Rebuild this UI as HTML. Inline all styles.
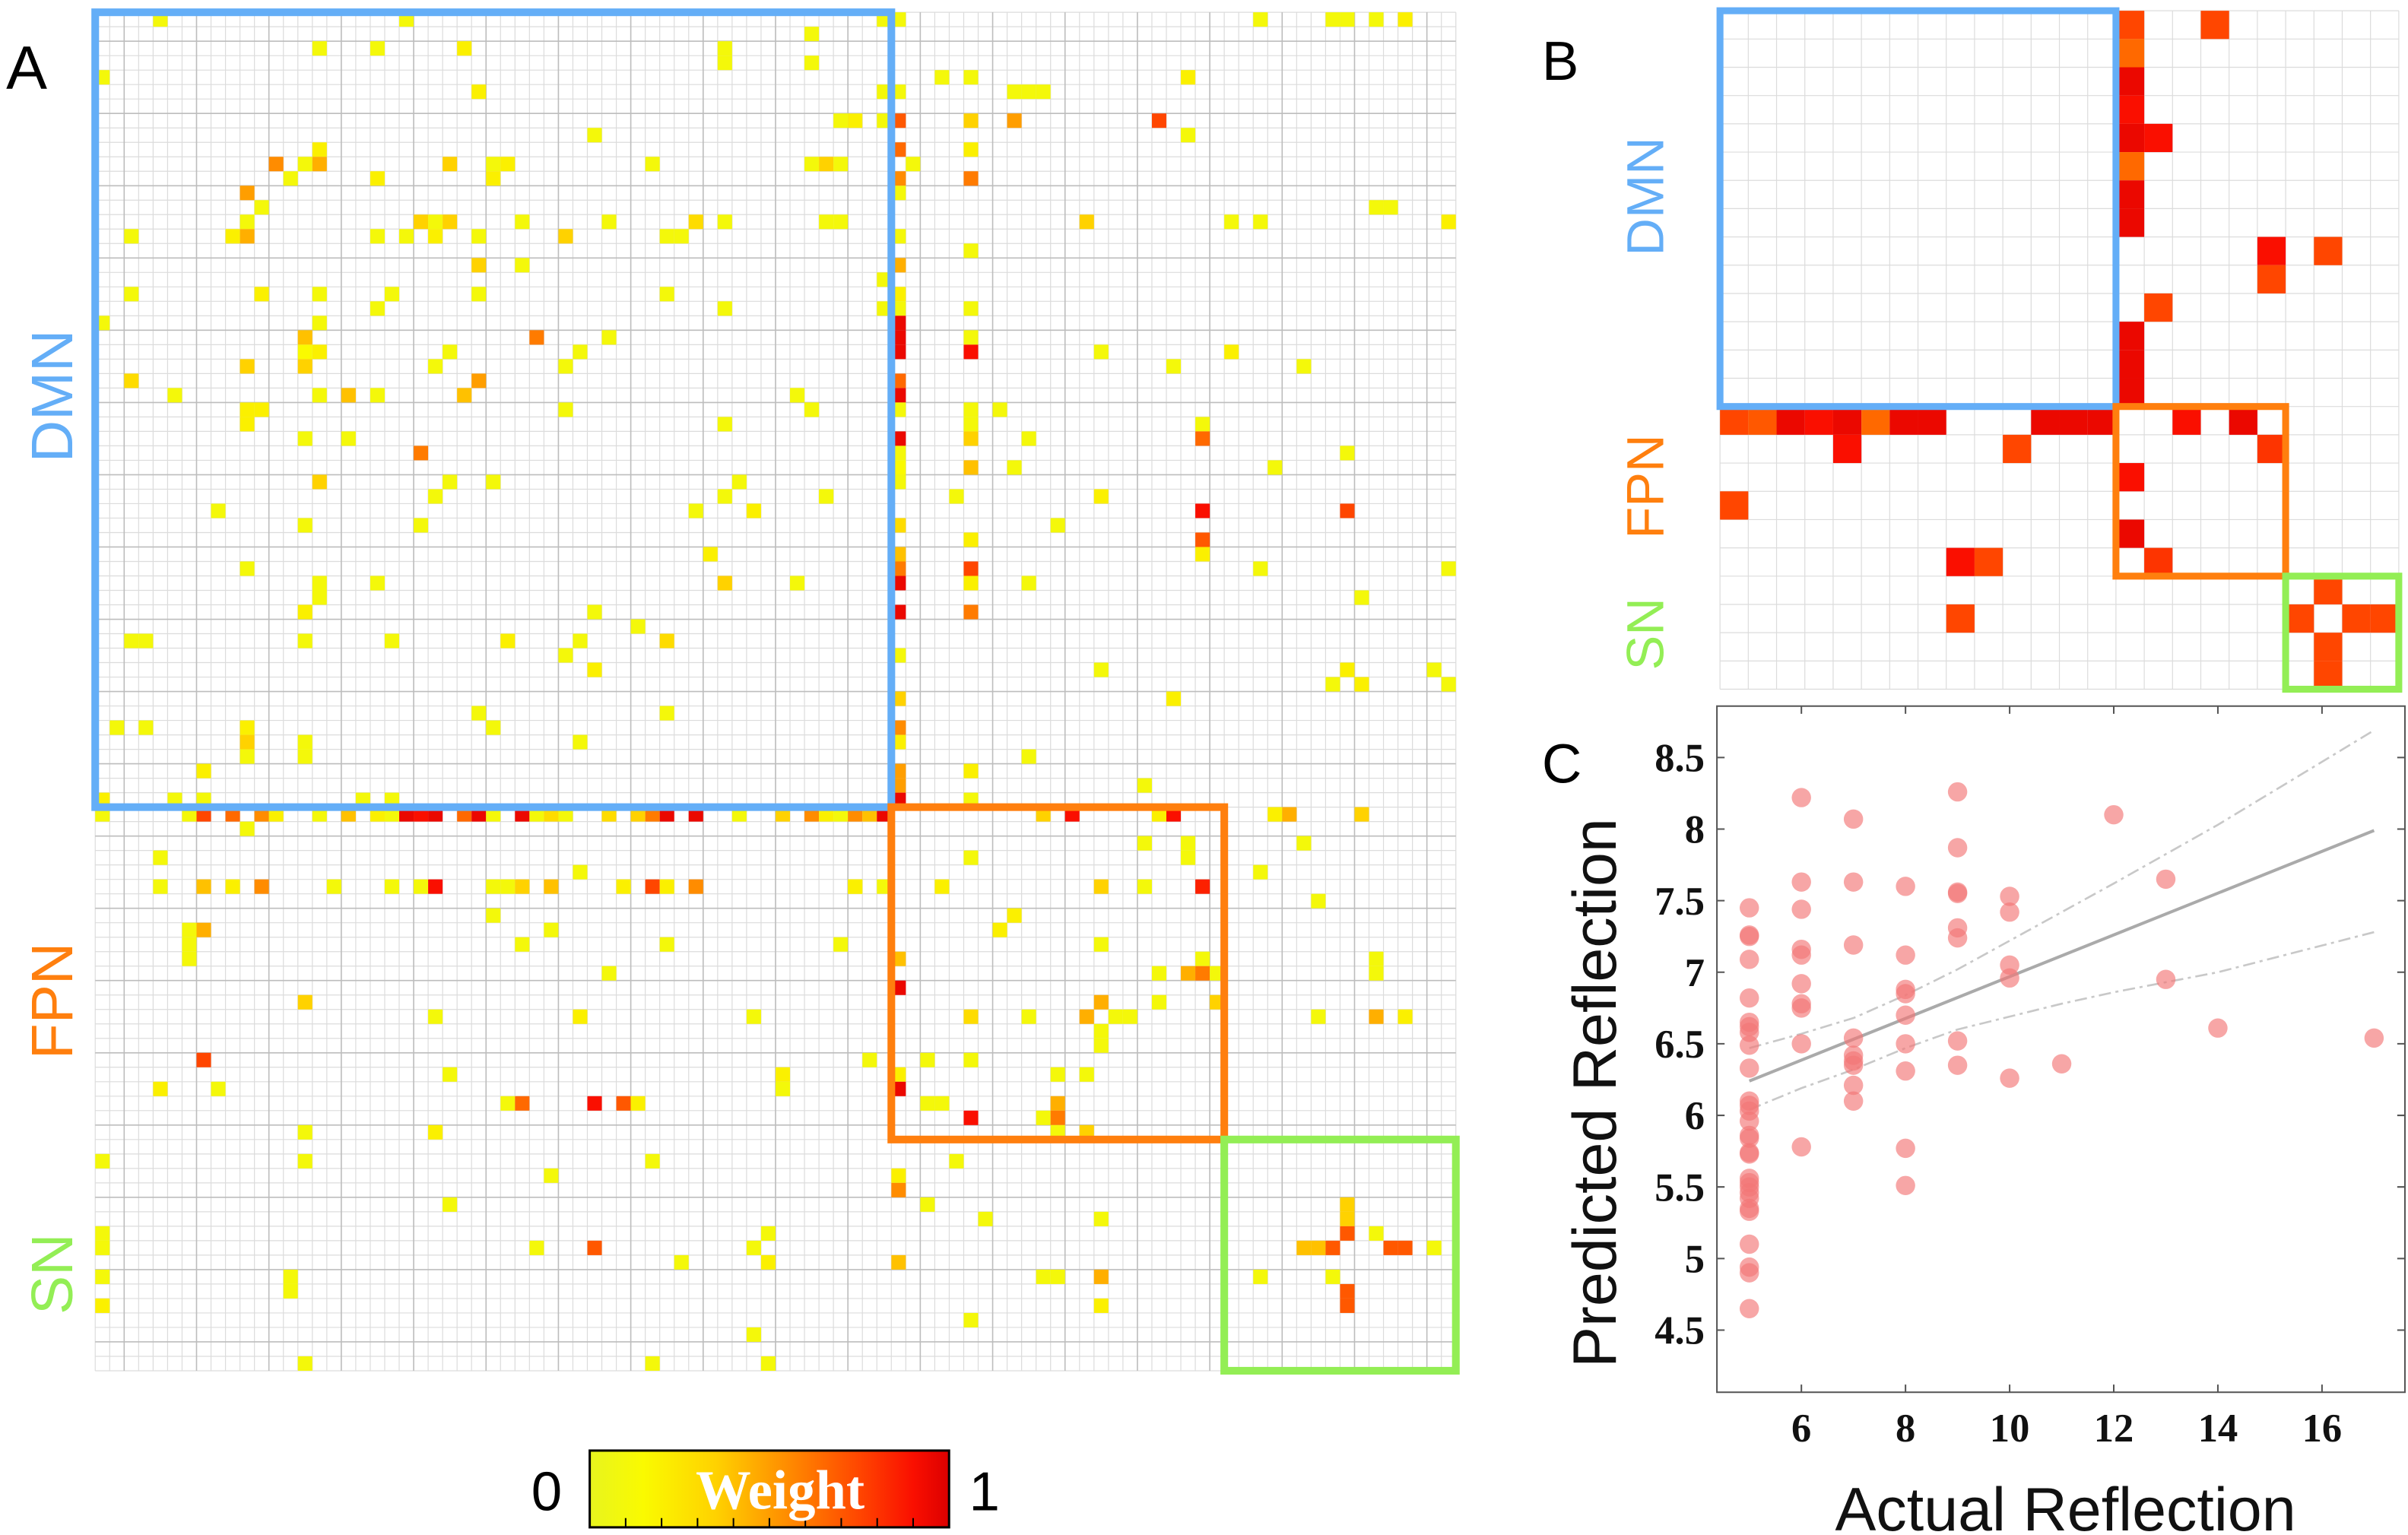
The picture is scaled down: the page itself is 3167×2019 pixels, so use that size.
<!DOCTYPE html>
<html><head><meta charset="utf-8">
<style>
html,body{margin:0;padding:0;background:#fff;}
svg{display:block;}
text{font-family:"Liberation Sans",sans-serif;}
text.serif{font-family:"Liberation Serif",serif;}
</style></head>
<body>
<svg id="fig" xmlns="http://www.w3.org/2000/svg" width="3167" height="2019" viewBox="0 0 1568 1000" preserveAspectRatio="none">
  <rect x="0" y="0" width="1568" height="1000" fill="#fff"/>
  <g id="panelA"></g>
  <g id="panelB"></g>
  <g id="panelC"></g>
  <g id="cbar"></g>
  <text x="4" y="58" font-size="40">A</text>
  <text x="1004" y="52" font-size="36">B</text>
  <text x="1004" y="510" font-size="36">C</text>
  <text transform="translate(47,258) rotate(-90)" text-anchor="middle" font-size="38" fill="#64aef7">DMN</text>
  <text transform="translate(47,652) rotate(-90)" text-anchor="middle" font-size="38" fill="#ff7f0e">FPN</text>
  <text transform="translate(47,830) rotate(-90)" text-anchor="middle" font-size="38" fill="#93ee55">SN</text>
  <text transform="translate(1083,128) rotate(-90)" text-anchor="middle" font-size="34" fill="#64aef7">DMN</text>
  <text transform="translate(1083,317) rotate(-90)" text-anchor="middle" font-size="34" fill="#ff7f0e">FPN</text>
  <text transform="translate(1083,413) rotate(-90)" text-anchor="middle" font-size="34" fill="#93ee55">SN</text>
</svg>
<script>
const NS = "http://www.w3.org/2000/svg";
// ---------- Panel A data: [row, col, weight] ----------
const aNetworkSizes = [55, 23, 16];
const aCells = [
[0,4,.1],[0,21,.1],[2,15,.1],[2,19,.1],[2,25,.2],[2,43,.1],[3,43,.1],[1,49,.1],[3,49,.1],[4,0,.1],[5,26,.2],[7,51,.1],[8,34,.1],[9,15,.2],[10,12,.55],[10,14,.1],[10,15,.45],[10,24,.35],[10,27,.1],[10,28,.2],[10,38,.1],[10,49,.1],[10,50,.35],[10,51,.1],[11,13,.1],[11,19,.2],[11,27,.2],[12,10,.5],[13,11,.1],[14,10,.1],[14,22,.35],[14,23,.1],[14,24,.35],[14,29,.1],[14,35,.1],[14,41,.3],[14,43,.1],[14,50,.1],[14,51,.1],[15,2,.1],[15,9,.2],[15,10,.45],[15,19,.1],[15,21,.1],[15,23,.2],[15,26,.1],[15,32,.35],[15,39,.1],[15,40,.1],[17,26,.35],[17,29,.1],[19,2,.1],[19,11,.2],[19,15,.1],[19,20,.1],[19,26,.1],[19,39,.1],[20,19,.1],[20,43,.1],[21,0,.1],[21,15,.1],[22,14,.4],[22,30,.6],[22,35,.1],[23,14,.15],[23,15,.2],[23,24,.1],[23,33,.1],[24,10,.35],[24,14,.35],[24,23,.1],[24,32,.1],[25,2,.3],[25,26,.5],[26,5,.1],[26,15,.1],[26,17,.4],[26,19,.1],[26,25,.4],[26,48,.1],[27,10,.2],[27,11,.2],[27,32,.1],[27,49,.1],[28,10,.2],[28,43,.1],[29,14,.1],[29,17,.1],[30,22,.6],[32,15,.35],[32,24,.1],[32,27,.1],[32,44,.1],[33,23,.1],[33,43,.1],[33,50,.1],[34,8,.1],[34,41,.1],[34,45,.2],[35,14,.1],[35,22,.1],[37,42,.2],[38,10,.1],[39,15,.1],[39,19,.1],[39,43,.35],[39,48,.1],[40,15,.1],[41,14,.2],[41,34,.1],[42,37,.1],[43,2,.1],[43,3,.1],[43,14,.1],[43,20,.1],[43,28,.2],[43,33,.1],[43,39,.3],[44,32,.1],[45,34,.2],[48,26,.1],[48,39,.1],[49,1,.1],[49,3,.1],[49,10,.2],[49,27,.1],[50,10,.35],[50,14,.1],[50,33,.1],[51,10,.1],[51,14,.1],[52,7,.2],[54,0,.2],[54,5,.1],[54,7,.1],[54,18,.1],[54,20,.1],
[0,54,.1],[0,55,.1],[0,80,.1],[0,85,.1],[0,86,.1],[0,88,.1],[0,90,.2],[4,58,.1],[4,60,.1],[4,75,.2],[5,54,.1],[5,55,.1],[5,63,.1],[5,64,.1],[5,65,.1],[7,52,.2],[7,54,.1],[7,55,.7],[7,60,.35],[7,63,.5],[7,73,.75],[8,75,.1],[9,55,.65],[9,60,.2],[10,56,.1],[11,55,.55],[11,60,.6],[12,55,.1],[13,88,.1],[13,89,.1],[14,68,.35],[14,78,.1],[14,80,.1],[14,93,.2],[15,55,.1],[16,60,.1],[17,55,.45],[18,54,.1],[19,55,.2],[20,54,.1],[20,55,.1],[20,60,.1],[21,55,.95],[22,55,.95],[22,60,.1],[23,55,.95],[23,60,.9],[23,69,.1],[23,78,.2],[24,74,.1],[24,83,.1],[25,55,.65],[26,48,.1],[26,55,.95],[27,49,.1],[27,55,.1],[27,60,.1],[27,62,.1],[28,60,.1],[28,76,.1],[29,55,.95],[29,60,.35],[29,64,.1],[29,76,.65],[30,55,.1],[30,86,.1],[31,55,.15],[31,60,.4],[31,63,.1],[31,81,.1],[32,55,.1],[33,50,.1],[33,59,.1],[33,69,.2],[34,76,.9],[34,86,.75],[35,55,.3],[35,66,.1],[36,60,.2],[36,76,.7],[37,55,.4],[37,76,.2],[38,55,.6],[38,60,.75],[38,80,.1],[38,93,.1],[39,48,.1],[39,55,.95],[39,60,.2],[39,64,.1],[40,87,.1],[41,55,.95],[41,60,.6],[44,55,.1],[45,69,.1],[45,86,.2],[45,92,.1],[46,85,.1],[46,87,.2],[46,93,.1],[47,55,.35],[47,74,.2],[49,55,.55],[50,55,.2],[51,64,.1],[52,55,.5],[52,60,.2],[53,55,.5],[53,72,.1],[54,55,.95],[54,60,.1],
[55,0,.1],[55,6,.1],[55,7,.75],[55,9,.65],[55,11,.55],[55,12,.2],[55,15,.1],[55,17,.4],[55,19,.2],[55,20,.1],[55,21,.95],[55,22,.9],[55,23,.95],[55,25,.65],[55,26,.95],[55,27,.1],[55,29,.95],[55,30,.1],[55,31,.3],[55,32,.1],[55,35,.3],[55,37,.35],[55,38,.6],[55,39,.95],[55,41,.95],[55,44,.1],[55,47,.35],[55,49,.55],[55,50,.2],[55,51,.1],[55,52,.55],[55,53,.4],[55,54,.95],[55,65,.35],[55,67,.9],[55,73,.2],[55,74,.9],[55,81,.2],[55,82,.45],[55,87,.35],
[56,10,.1],[58,4,.1],[59,33,.1],[60,4,.1],[60,7,.4],[60,9,.2],[60,11,.55],[60,16,.1],[60,20,.1],[60,22,.1],[60,23,.9],[60,27,.1],[60,28,.1],[60,29,.35],[60,31,.4],[60,36,.2],[60,38,.75],[60,39,.2],[60,41,.55],[60,52,.1],[62,27,.1],[63,6,.1],[63,7,.45],[63,31,.1],[64,6,.1],[64,29,.1],[64,39,.1],[64,51,.1],[65,6,.1],[66,35,.1],[68,14,.35],[69,23,.1],[69,33,.2],[69,45,.1],[72,7,.75],[73,24,.1],[73,47,.2],[74,4,.2],[74,8,.1],[75,28,.1],[75,29,.65],[75,34,.9],[75,36,.7],[75,37,.2],[77,14,.1],[77,23,.2],[79,0,.1],[79,14,.1],[79,38,.1],[80,31,.1],[82,24,.1],[84,0,.1],[84,46,.1],[85,0,.1],[85,30,.1],[85,34,.7],[85,45,.1],[86,40,.1],[86,46,.2],[87,0,.1],[87,13,.1],[88,13,.1],[89,0,.2],[91,45,.1],[93,14,.1],[93,38,.1],[93,46,.1],
[57,72,.1],[57,75,.1],[57,83,.1],[58,60,.1],[58,75,.1],[59,80,.1],[60,52,.2],[60,54,.1],[60,58,.2],[60,69,.35],[60,72,.1],[60,76,.85],[61,84,.1],[62,63,.2],[63,62,.2],[64,69,.1],[65,55,.4],[65,76,.1],[65,88,.1],[66,73,.1],[66,75,.45],[66,76,.6],[66,77,.1],[66,88,.1],[67,55,.95],[68,69,.45],[68,73,.1],[68,77,.35],[69,60,.3],[69,64,.1],[69,68,.45],[69,70,.1],[69,71,.1],[69,84,.1],[69,88,.45],[69,90,.2],[70,69,.1],[71,69,.1],[72,53,.1],[72,57,.1],[72,60,.1],[73,55,.2],[73,66,.1],[73,68,.1],[74,47,.1],[74,55,.95],[75,57,.1],[75,58,.1],[75,66,.45],[76,60,.9],[76,65,.1],[76,66,.6],[77,66,.1],[77,68,.35],[79,59,.1],[80,55,.2],[81,55,.55],[82,57,.1],[82,86,.35],[83,61,.1],[83,69,.1],[83,86,.35],[84,86,.7],[84,88,.1],[85,83,.4],[85,84,.4],[85,85,.7],[85,89,.7],[85,90,.7],[85,92,.1],[86,55,.4],[87,65,.1],[87,66,.1],[87,69,.45],[87,80,.1],[87,85,.1],[88,86,.7],[89,69,.2],[89,86,.7],[90,60,.1]
];
// ---------- Panel B data ----------
const bNetworkSizes = [14, 6, 4];
const bCells = [
[0,14,.75],[0,17,.75],[1,14,.65],[2,14,.95],[3,14,.9],[4,14,.95],[4,15,.9],[5,14,.65],[6,14,.95],[7,14,.95],[8,19,.9],[8,21,.75],[9,19,.75],[10,15,.75],[11,14,.95],[12,14,.95],[13,14,.95],[14,0,.75],[14,1,.7],[14,2,.95],[14,3,.9],[14,4,.95],[14,5,.65],[14,6,.95],[14,7,.95],[14,11,.95],[14,12,.95],[14,13,.95],[14,16,.9],[14,18,.95],[15,4,.9],[15,10,.75],[15,19,.8],[16,14,.9],[17,0,.75],[18,14,.95],[19,8,.9],[19,9,.75],[19,15,.8],[20,21,.75],[21,8,.75],[21,20,.75],[21,22,.75],[21,23,.75],[22,21,.75],[23,21,.75]
];
// ---------- Panel C data ----------
const actual = [5,5,5,5,5,5,5,5,5,5,5,5,5,5,5,5,5,5,5,5,5,5,5,5,5,5,5,5,5,
6,6,6,6,6,6,6,6,6,6, 7,7,7,7,7,7,7,7,7, 8,8,8,8,8,8,8,8,8, 9,9,9,9,9,9,9,9, 10,10,10,10,10, 11,12,13,13,14,17];
const predicted = [7.45,7.26,7.25,7.09,6.82,6.65,6.62,6.58,6.49,6.33,6.1,6.07,6.03,5.96,5.86,5.84,5.74,5.73,5.56,5.53,5.5,5.46,5.42,5.35,5.33,5.1,4.94,4.9,4.65,
8.22,7.63,7.44,7.16,7.12,6.92,6.78,6.75,6.5,5.78, 8.07,7.63,7.19,6.54,6.42,6.38,6.35,6.21,6.1, 7.6,7.12,6.88,6.85,6.7,6.5,6.31,5.77,5.51, 8.26,7.87,7.56,7.55,7.31,7.24,6.52,6.35, 7.53,7.42,7.05,6.96,6.26, 6.36,8.1,7.65,6.95,6.61,6.54];
const fitX = [5, 17];
const fitY = [6.24, 7.99];
const ciX = [5, 6, 7, 8, 9, 10, 11, 12, 14, 17];
const ciUpper = [6.47, 6.57, 6.68, 6.84, 7.02, 7.22, 7.42, 7.62, 8.03, 8.69];
const ciLower = [6.04, 6.19, 6.32, 6.47, 6.6, 6.69, 6.78, 6.86, 7.0, 7.28];
const xTicks = [6, 8, 10, 12, 14, 16];
const yTicks = [4.5, 5, 5.5, 6, 6.5, 7, 7.5, 8, 8.5];

const cmapStops = [[0,[232,245,30]],[0.15,[250,250,0]],[0.35,[255,210,0]],[0.55,[255,140,0]],[0.75,[255,70,0]],[0.9,[250,15,0]],[1,[220,0,0]]];
function cmap(v){
  for(let i=1;i<cmapStops.length;i++){
    if(v<=cmapStops[i][0]){
      const a=cmapStops[i-1],b=cmapStops[i];const t=(v-a[0])/(b[0]-a[0]);
      const c=a[1].map((x,k)=>Math.round(x+(b[1][k]-x)*t));
      return `rgb(${c[0]},${c[1]},${c[2]})`;
    }
  }
  return 'rgb(220,0,0)';
}
function mk(tag, attrs, parent){
  const e=document.createElementNS(NS,tag);
  for(const k in attrs) e.setAttribute(k,attrs[k]);
  parent.appendChild(e); return e;
}
const boxColors=['#64aef7','#ff7f0e','#93ee55'];
const boxNames=['dmn-box','fpn-box','sn-box'];

function drawMatrix(g, x0, y0, w, h, sizes, cells, boxW, majorEvery, prefix){
  const n=sizes.reduce((a,b)=>a+b,0);
  const cw=w/n, ch=h/n;
  const X=c=>x0+c*cw, Y=r=>y0+r*ch;
  let minor='', major='';
  for(let i=0;i<=n;i++){
    const seg=`M${X(i)},${y0}V${y0+h}M${x0},${Y(i)}H${x0+w}`;
    if(majorEvery && i%majorEvery===2) major+=seg; else minor+=seg;
  }
  const gm=mk('path',{d:minor,stroke:'#dcdcdc','stroke-width':0.6,fill:'none'},g);
  
  
  if(major){
    const gM=mk('path',{d:major,stroke:'#bdbdbd','stroke-width':0.8,fill:'none'},g);
    
    
  }
  cells.forEach(c=>{
    const r=mk('rect',{x:X(c[1]),y:Y(c[0]),width:cw,height:ch,fill:cmap(c[2])},g);
    
    
  });
  let s=0;
  sizes.forEach((sz,i)=>{
    const b=mk('rect',{x:X(s),y:Y(s),width:sz*cw,height:sz*ch,fill:'none',stroke:boxColors[i],'stroke-width':boxW},g);
    
    
    s+=sz;
  });
}
drawMatrix(document.getElementById('panelA'),62,8,886,885,aNetworkSizes,aCells,5,5,'matrix-a');
drawMatrix(document.getElementById('panelB'),1120,7,442,442,bNetworkSizes,bCells,4.5,0,'matrix-b');

(function(){
  const g=document.getElementById('cbar');
  const defs=mk('defs',{},g);
  const lg=mk('linearGradient',{id:'cg',x1:0,x2:1,y1:0,y2:0},defs);
  cmapStops.forEach(s=>mk('stop',{offset:s[0],'stop-color':cmap(s[0])},lg));
  const bar=mk('rect',{x:384,y:945,width:234,height:50,fill:'url(#cg)',stroke:'#000','stroke-width':1.5},g);
  
  
  let d='';
  for(let i=0;i<=10;i++){const x=384+i*23.4;d+=`M${x},995V989`;}
  mk('path',{d:d,stroke:'#000','stroke-width':1},g);
  const t=mk('text',{x:508,y:983,'text-anchor':'middle','font-size':36,'font-weight':'bold',fill:'#fff','class':'serif'},g);
  t.textContent='Weight';
  
  
  const t0=mk('text',{x:356,y:984,'text-anchor':'middle','font-size':36},g);t0.textContent='0';
  
  
  const t1=mk('text',{x:641,y:984,'text-anchor':'middle','font-size':36},g);t1.textContent='1';
  
  
})();

(function(){
  const g=document.getElementById('panelC');
  const L=1118,R=1566,T=460,B=907;
  const sx=v=>1173+(v-6)*33.9;
  const sy=v=>493.5+(8.5-v)*93.25;
  const fr=mk('rect',{x:L,y:T,width:R-L,height:B-T,fill:'none',stroke:'#555','stroke-width':1},g);
  
  
  xTicks.forEach(v=>{
    mk('path',{d:`M${sx(v)},${B}V${B-5}M${sx(v)},${T}V${T+5}`,stroke:'#555','stroke-width':1},g);
    const t=mk('text',{x:sx(v),y:B+32,'text-anchor':'middle','font-size':26,'font-weight':'bold','class':'serif',fill:'#111'},g);
    t.textContent=v;
    
    
  });
  yTicks.forEach(v=>{
    mk('path',{d:`M${L},${sy(v)}H${L+5}M${R},${sy(v)}H${R-5}`,stroke:'#555','stroke-width':1},g);
    const t=mk('text',{x:L-8,y:sy(v)+9,'text-anchor':'end','font-size':26,'font-weight':'bold','class':'serif',fill:'#111'},g);
    t.textContent=v;
    
    
  });
  const up=mk('polyline',{points:ciX.map((x,i)=>sx(x)+','+sy(ciUpper[i])).join(' '),fill:'none',stroke:'#c8c8c8','stroke-width':1.3,'stroke-dasharray':'8 3 2 3'},g);
  
  
  const lo=mk('polyline',{points:ciX.map((x,i)=>sx(x)+','+sy(ciLower[i])).join(' '),fill:'none',stroke:'#c8c8c8','stroke-width':1.3,'stroke-dasharray':'8 3 2 3'},g);
  
  
  const fl=mk('line',{x1:sx(fitX[0]),y1:sy(fitY[0]),x2:sx(fitX[1]),y2:sy(fitY[1]),stroke:'#aaa','stroke-width':2},g);
  
  
  actual.forEach((x,i)=>{
    const c=mk('circle',{cx:sx(x),cy:sy(predicted[i]),r:6.3,fill:'#f27777','fill-opacity':0.65},g);
    
    
  });
  const yl=mk('text',{transform:`translate(1052,712) rotate(-90)`,'text-anchor':'middle','font-size':40,fill:'#111'},g);
  yl.textContent='Predicted Reflection';
  
  
  const xl=mk('text',{x:1345,y:997,'text-anchor':'middle','font-size':40,fill:'#111'},g);
  xl.textContent='Actual Reflection';
  
  
})();
</script>
</body></html>
